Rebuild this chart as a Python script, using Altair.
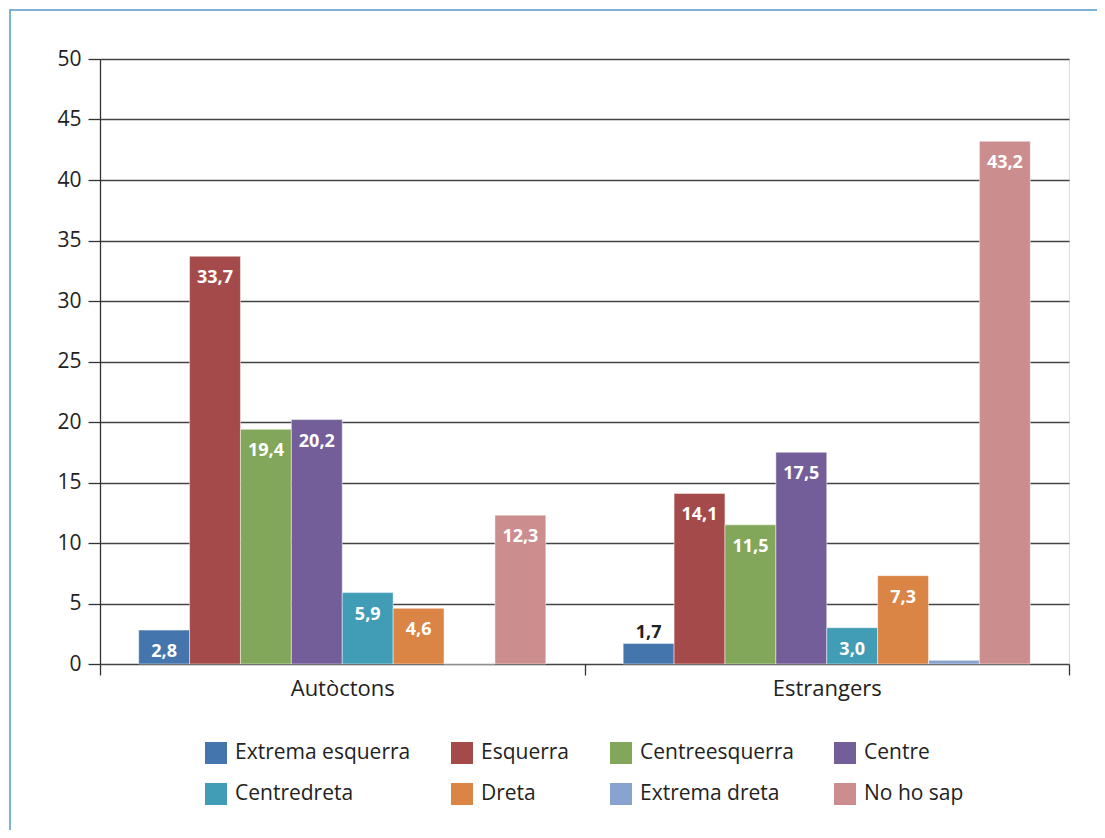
import altair as alt
import pandas as pd

groups = ["Autòctons", "Estrangers"]
series = ["Extrema esquerra", "Esquerra", "Centreesquerra", "Centre",
          "Centredreta", "Dreta", "Extrema dreta", "No ho sap"]
colors = ["#4575AD", "#A54A4A", "#83A75A", "#735E99",
          "#409DB5", "#DA8446", "#88A3D0", "#CC8D8F"]
autoctons = [2.8, 33.7, 19.4, 20.2, 5.9, 4.6, 0.0, 12.3]
estrangers = [1.7, 14.1, 11.5, 17.5, 3.0, 7.3, 0.3, 43.2]
# where each value label goes: inside the bar, above it, or not shown
autoctons_pos = ["in", "in", "in", "in", "in", "in", "none", "in"]
estrangers_pos = ["out", "in", "in", "in", "in", "in", "none", "in"]

rows = []
for g, vals, poss in [(groups[0], autoctons, autoctons_pos),
                      (groups[1], estrangers, estrangers_pos)]:
    for s, v, p in zip(series, vals, poss):
        rows.append({"group": g, "series": s, "value": v,
                     "label": f"{v:.1f}".replace(".", ","), "pos": p})
df = pd.DataFrame(rows)

FONT = "Open Sans"

x = alt.X("group:N", sort=groups, title=None,
          scale=alt.Scale(paddingInner=0, paddingOuter=0),
          axis=alt.Axis(labelAngle=0, labelFontSize=22, labelColor="#222",
                        labelFont=FONT, tickBand="extent", tickSize=11,
                        tickColor="#333", tickWidth=1.3, domain=False,
                        labelPadding=3, grid=False))
xo = alt.XOffset("series:N", sort=series,
                 scale=alt.Scale(paddingInner=0, paddingOuter=0.76))
y = alt.Y("value:Q", title=None,
          scale=alt.Scale(domain=[0, 50], nice=False),
          axis=alt.Axis(values=list(range(0, 51, 5)), labelFontSize=21,
                        labelColor="#222", labelFont=FONT, tickSize=12,
                        tickColor="#333", tickWidth=1.3, labelPadding=7,
                        domainColor="#333", domainWidth=1.3,
                        grid=True, gridColor="#444", gridWidth=1.4))

bars = alt.Chart(df).mark_bar(stroke="white", strokeWidth=0.8,
                              strokeOpacity=0.6).encode(
    x=x, xOffset=xo, y=y,
    color=alt.Color("series:N", sort=series,
                    scale=alt.Scale(domain=series, range=colors),
                    legend=alt.Legend(
                        title=None, orient="none", legendX=105, legendY=683,
                        direction="horizontal", columns=4, columnPadding=40,
                        rowPadding=19, symbolType="square", symbolSize=484,
                        symbolStrokeWidth=0, symbolOpacity=1, labelOffset=8,
                        labelFontSize=21, labelFont=FONT, labelColor="#222",
                        labelLimit=400, padding=0)),
)

inside = alt.Chart(df).transform_filter(alt.datum.pos == "in").mark_text(
    font=FONT, fontSize=18, fontWeight="bold", color="white",
    baseline="alphabetic", dy=27).encode(
    x=x, xOffset=xo, y=y, text="label:N")

outside = alt.Chart(df).transform_filter(alt.datum.pos == "out").mark_text(
    font=FONT, fontSize=18, fontWeight="bold", color="#222",
    baseline="alphabetic", dy=-5).encode(
    x=x, xOffset=xo, y=y, text="label:N")

frame = alt.Chart(pd.DataFrame({"k": [0]})).mark_rect(
    fill=None, stroke="#7FB2D8", strokeWidth=2).encode(
    x=alt.value(-90), x2=alt.value(1200), y=alt.value(-49), y2=alt.value(900))

chart = alt.layer(frame, bars, inside, outside).properties(
    width=969, height=605,
    autosize=alt.AutoSizeParams(type="none"),
    padding={"left": 92, "top": 51, "right": 28, "bottom": 166},
).configure_view(stroke=None).configure(background="white")

chart.save("out.html", embed_options={"renderer": "svg", "actions": False})
